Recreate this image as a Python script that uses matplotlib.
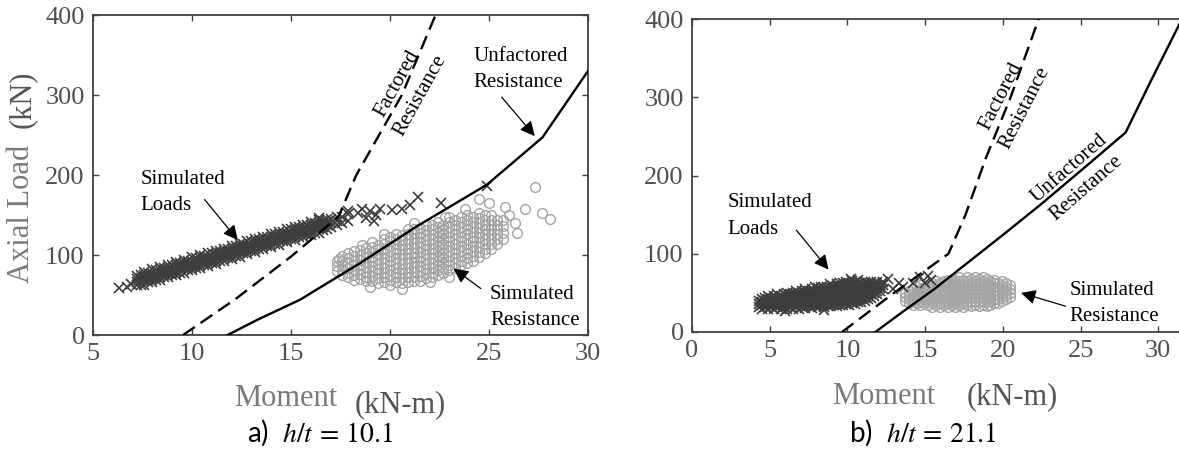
import numpy as np
import matplotlib.pyplot as plt

plt.rcParams['font.family'] = ['Liberation Serif', 'DejaVu Serif']
plt.rcParams['mathtext.fontset'] = 'stix'

# ---- panel a) h/t = 10.1 ----
fact_a_m = [9.55, 12.2, 15.0, 17.4, 18.3, 20.6, 22.3]
fact_a_p = [0, 45, 98, 148, 200, 300, 400]
unf_a_m = [11.8, 13.3, 15.45, 18.5, 21.3, 24.9, 27.7, 30.0]
unf_a_p = [0, 19, 44, 90, 135, 188, 247, 330]

loads_a_rows = [
    (7.2, [62, 66, 70, 74]), (7.4, [63, 67, 71, 75]), (7.6, [63, 67, 71, 75, 79]),
    (7.8, [66, 70, 74, 78]), (8.0, [66, 70, 74, 78, 82]), (8.2, [69, 73, 77, 81]),
    (8.4, [69, 73, 77, 81, 85]), (8.6, [72, 76, 80, 84]), (8.8, [72, 76, 80, 84, 88]),
    (9.0, [75, 79, 83, 87]), (9.2, [75, 79, 83, 87, 91]), (9.4, [78, 82, 86, 90]),
    (9.6, [78, 82, 86, 90, 94]), (9.8, [81, 85, 89, 93]), (10.0, [81, 85, 89, 93, 97]),
    (10.2, [84, 88, 92, 96]), (10.4, [84, 88, 92, 96, 100]), (10.6, [87, 91, 95, 99]),
    (10.8, [86, 90, 94, 98, 102]), (11.0, [90, 94, 98, 102]), (11.2, [89, 93, 97, 101, 105]),
    (11.4, [93, 97, 101, 105]), (11.6, [92, 96, 100, 104, 108]), (11.8, [96, 100, 104, 108]),
    (12.0, [95, 99, 103, 107, 111]), (12.2, [99, 103, 107, 111]), (12.4, [98, 102, 106, 110, 114]),
    (12.6, [102, 106, 110, 114]), (12.8, [101, 105, 109, 113, 117]), (13.0, [105, 109, 113, 117]),
    (13.2, [104, 108, 112, 116, 120]), (13.4, [108, 112, 116, 120]), (13.6, [107, 111, 115, 119, 123]),
    (13.8, [111, 115, 119, 123]), (14.0, [110, 114, 118, 122, 126]), (14.2, [114, 118, 122, 126]),
    (14.4, [113, 117, 121, 125, 129]), (14.6, [117, 121, 125, 129]), (14.8, [116, 120, 124, 128, 132]),
    (15.0, [120, 124, 128, 132]), (15.2, [119, 123, 127, 131, 135]), (15.4, [123, 127, 131, 135]),
    (15.6, [122, 126, 130, 134, 138]), (15.8, [125, 129, 133, 137]), (16.0, [125, 129, 133, 137, 141]),
    (16.2, [128, 132, 136, 140]), (16.4, [128, 132, 136, 140, 144]), (16.6, [131, 135, 139, 143]),
    (16.8, [133, 137, 141, 145]), (17.0, [135, 140, 145]), (17.3, [137, 143, 148]),
    (17.6, [140, 147]), (17.9, [143, 151]),
    (6.3, [59]), (6.7, [60]), (6.9, [64]), (16.4, [146]), (18.4, [153]), (18.8, [146]),
    (19.0, [155]), (19.3, [150]), (19.5, [157]), (19.2, [143]), (20.1, [156]),
    (20.6, [158]), (21.0, [162]), (21.4, [172]), (22.6, [165]), (24.9, [186]),
    (18.6, [158]), (17.9, [155]),
]
res_a_rows = [
    (17.3, [80, 86, 92]), (17.6, [75, 81, 87, 93, 99]), (17.9, [72, 78, 84, 90, 96, 102]),
    (18.2, [69, 75, 81, 87, 93, 99, 105]), (18.5, [70, 76, 82, 88, 94, 100, 106]),
    (18.8, [67, 73, 79, 85, 91, 97, 103, 109]), (19.1, [68, 74, 80, 86, 92, 98, 104, 110, 116]),
    (19.4, [65, 71, 77, 83, 89, 95, 101, 107, 113]),
    (19.7, [66, 72, 78, 84, 90, 96, 102, 108, 114, 120]),
    (20.0, [63, 69, 75, 81, 87, 93, 99, 105, 111, 117, 123]),
    (20.3, [66, 72, 78, 84, 90, 96, 102, 108, 114, 120, 126]),
    (20.6, [65, 71, 77, 83, 89, 95, 101, 107, 113, 119, 125]),
    (20.9, [66, 72, 78, 84, 90, 96, 102, 108, 114, 120, 126, 132]),
    (21.2, [67, 73, 79, 85, 91, 97, 103, 109, 115, 121, 127, 133]),
    (21.5, [68, 74, 80, 86, 92, 98, 104, 110, 116, 122, 128, 134]),
    (21.8, [71, 77, 83, 89, 95, 101, 107, 113, 119, 125, 131, 137]),
    (22.1, [72, 78, 84, 90, 96, 102, 108, 114, 120, 126, 132, 138]),
    (22.4, [75, 81, 87, 93, 99, 105, 111, 117, 123, 129, 135, 141]),
    (22.7, [78, 84, 90, 96, 102, 108, 114, 120, 126, 132, 138]),
    (23.0, [81, 87, 93, 99, 105, 111, 117, 123, 129, 135, 141, 147]),
    (23.3, [84, 90, 96, 102, 108, 114, 120, 126, 132, 138, 144]),
    (23.6, [87, 93, 99, 105, 111, 117, 123, 129, 135, 141, 147]),
    (23.9, [90, 96, 102, 108, 114, 120, 126, 132, 138, 144, 150]),
    (24.2, [93, 99, 105, 111, 117, 123, 129, 135, 141, 147]),
    (24.5, [98, 104, 110, 116, 122, 128, 134, 140, 146, 152]),
    (24.8, [102, 108, 114, 120, 126, 132, 138, 144, 150]),
    (25.1, [108, 114, 120, 126, 132, 138, 144, 150]),
    (25.4, [114, 120, 126, 132, 138, 144]), (25.7, [120, 128, 136, 144]),
    (17.4, [95]), (18.6, [112]), (19.0, [60]), (20.6, [58]), (26.0, [150]), (26.3, [140]),
    (26.8, [158]), (27.3, [185]), (27.7, [152]), (28.1, [145]), (25.8, [160]), (25.0, [165]),
    (24.5, [170]), (23.8, [158]), (22.8, [147]), (21.2, [140]), (19.7, [126]), (26.4, [128]),
    (23.0, [72]), (22.0, [66]),
]

# ---- panel b) h/t = 21.1 ----
fact_b_m = [9.65, 13.0, 16.5, 17.6, 18.9, 20.5, 22.3]
fact_b_p = [0, 50, 100, 150, 222, 300, 400]
unf_b_m = [11.8, 13.5, 15.6, 17.7, 20.0, 22.5, 25.6, 27.9, 29.5, 31.4, 32.0]
unf_b_p = [0, 25, 55, 88, 124, 164, 216, 255, 320, 395, 420]

loads_b_rows = [
    (4.3, [32, 36, 40]), (4.5, [30, 34, 38, 42]), (4.7, [32, 36, 40, 44]),
    (4.9, [30, 34, 38, 42, 46]), (5.1, [32, 36, 40, 44]), (5.3, [30, 34, 38, 42, 46]),
    (5.5, [32, 36, 40, 44, 48]), (5.7, [30, 34, 38, 42, 46]), (5.9, [32, 36, 40, 44, 48]),
    (6.1, [30, 34, 38, 42, 46, 50]), (6.3, [32, 36, 40, 44, 48]), (6.5, [30, 34, 38, 42, 46, 50]),
    (6.7, [32, 36, 40, 44, 48, 52]), (6.9, [30, 34, 38, 42, 46, 50]), (7.1, [32, 36, 40, 44, 48, 52]),
    (7.3, [31, 35, 39, 43, 47, 51, 55]), (7.5, [33, 37, 41, 45, 49, 53]),
    (7.7, [31, 35, 39, 43, 47, 51, 55]), (7.9, [33, 37, 41, 45, 49, 53, 57]),
    (8.1, [32, 36, 40, 44, 48, 52, 56]), (8.3, [34, 38, 42, 46, 50, 54, 58]),
    (8.5, [32, 36, 40, 44, 48, 52, 56]), (8.7, [34, 38, 42, 46, 50, 54, 58]),
    (8.9, [33, 37, 41, 45, 49, 53, 57, 61]), (9.1, [35, 39, 43, 47, 51, 55, 59]),
    (9.3, [33, 37, 41, 45, 49, 53, 57, 61]), (9.5, [35, 39, 43, 47, 51, 55, 59, 63]),
    (9.7, [34, 38, 42, 46, 50, 54, 58, 62]), (9.9, [36, 40, 44, 48, 52, 56, 60, 64]),
    (10.1, [35, 39, 43, 47, 51, 55, 59, 63]), (10.3, [37, 41, 45, 49, 53, 57, 61, 65]),
    (10.5, [36, 40, 44, 48, 52, 56, 60, 64]), (10.7, [38, 42, 46, 50, 54, 58, 62, 66]),
    (10.9, [38, 42, 46, 50, 54, 58, 62]), (11.1, [40, 44, 48, 52, 56, 60, 64]),
    (11.3, [42, 46, 50, 54, 58, 62]), (11.5, [44, 48, 52, 56, 60, 64]),
    (11.7, [46, 50, 54, 58, 62]), (11.9, [48, 52, 56, 60, 64]), (12.1, [52, 56, 60]),
    (12.3, [55, 60, 64]),
    (12.9, [55]), (13.3, [62]), (13.6, [58]), (14.2, [63]), (14.7, [70]), (15.0, [62]),
    (15.2, [72]), (15.4, [66]), (12.6, [68]), (10.2, [68]), (8.5, [28]), (6.0, [27]),
]
res_b_rows = [
    (13.7, [40, 45, 50]), (13.95, [37, 42, 47, 52]), (14.2, [35, 40, 45, 50, 55]),
    (14.45, [37, 42, 47, 52, 57]), (14.7, [35, 40, 45, 50, 55, 60]), (14.95, [37, 42, 47, 52, 57]),
    (15.2, [35, 40, 45, 50, 55, 60]), (15.45, [32, 37, 42, 47, 52, 57, 62]),
    (15.7, [35, 40, 45, 50, 55, 60, 65]), (15.95, [32, 37, 42, 47, 52, 57, 62]),
    (16.2, [35, 40, 45, 50, 55, 60, 65]), (16.45, [32, 37, 42, 47, 52, 57, 62, 67]),
    (16.7, [35, 40, 45, 50, 55, 60, 65]), (16.95, [32, 37, 42, 47, 52, 57, 62, 67]),
    (17.2, [35, 40, 45, 50, 55, 60, 65, 70]), (17.45, [32, 37, 42, 47, 52, 57, 62, 67]),
    (17.7, [35, 40, 45, 50, 55, 60, 65, 70]), (17.95, [33, 38, 43, 48, 53, 58, 63, 68]),
    (18.2, [35, 40, 45, 50, 55, 60, 65, 70]), (18.45, [33, 38, 43, 48, 53, 58, 63, 68]),
    (18.7, [35, 40, 45, 50, 55, 60, 65, 70]), (18.95, [33, 38, 43, 48, 53, 58, 63, 68]),
    (19.2, [35, 40, 45, 50, 55, 60, 65]), (19.45, [37, 42, 47, 52, 57, 62, 67]),
    (19.7, [37, 42, 47, 52, 57, 62]), (19.95, [40, 45, 50, 55, 60, 65]),
    (20.2, [42, 47, 52, 57, 62]), (20.45, [45, 50, 55, 60]),
]


def flat(rows):
    xs, ys = [], []
    for x, yl in rows:
        for y in yl:
            xs.append(x)
            ys.append(y)
    return xs, ys


LOADC = '#3d3d3d'
RESC = '#a4a4a4'
TICKC = '#505050'
W, H = 1179, 451

fig = plt.figure(figsize=(W / 100, H / 100), dpi=100)
axA = fig.add_axes([93 / W, 1 - 335 / H, 495 / W, 320 / H])
axB = fig.add_axes([692 / W, 1 - 332 / H, 544 / W, 313 / H])


def style(ax, xlim, xticks):
    ax.set_xlim(*xlim)
    ax.set_ylim(0, 400)
    ax.set_xticks(xticks)
    ax.set_yticks([0, 100, 200, 300, 400])
    ax.tick_params(direction='in', top=True, right=True, length=4, width=1,
                   labelsize=19, labelcolor=TICKC, color='#404040', pad=6)
    for s in ax.spines.values():
        s.set_color('#404040')
        s.set_linewidth(1.3)


def draw(ax, loads, res, fm, fp, um, up):
    lx, ly = flat(loads)
    rx, ry = flat(res)
    ax.plot(rx, ry, 'o', mfc='none', mec=RESC, ms=7, mew=1, zorder=2)
    ax.plot(lx, ly, 'x', color=LOADC, ms=7, mew=1.2, zorder=3)
    ax.plot(fm, fp, color='black', lw=1.7, dashes=(6, 3), zorder=4)
    ax.plot(um, up, color='black', lw=1.7, zorder=4)


style(axA, (5, 30), [5, 10, 15, 20, 25, 30])
style(axB, (0, 35), [0, 5, 10, 15, 20, 25, 30])
draw(axA, loads_a_rows, res_a_rows, fact_a_m, fact_a_p, unf_a_m, unf_a_p)
draw(axB, loads_b_rows, res_b_rows, fact_b_m, fact_b_p, unf_b_m, unf_b_p)

arr = dict(arrowstyle='-|>', color='black', lw=0.9, mutation_scale=22)
fs = 15
ls = 1.5

# annotations a)
axA.text(7.4, 206, 'Simulated\nLoads', fontsize=fs, va='top', ha='left', linespacing=ls)
axA.annotate('', xy=(12.4, 116), xytext=(10.55, 172), arrowprops=arr)
axA.text(24.2, 360, 'Unfactored\nResistance', fontsize=fs, va='top', ha='left', linespacing=ls)
axA.annotate('', xy=(27.4, 246), xytext=(25.55, 300), arrowprops=arr)
axA.text(25.05, 63, 'Simulated\nResistance', fontsize=fs, va='top', ha='left', linespacing=ls)
axA.annotate('', xy=(23.1, 85), xytext=(24.7, 56), arrowprops=arr)
axA.text(20.93, 306.5, 'Factored\nResistance', fontsize=fs, rotation=61, ha='center', va='center',
         rotation_mode='anchor', linespacing=ls)

# annotations b)
axB.text(2.3, 178, 'Simulated\nLoads', fontsize=fs, va='top', ha='left', linespacing=1.6)
axB.annotate('', xy=(8.9, 77), xytext=(6.6, 133), arrowprops=arr)
axB.text(24.3, 65, 'Simulated\nResistance', fontsize=fs, va='top', ha='left', linespacing=ls)
axB.annotate('', xy=(21.0, 51), xytext=(24.2, 32), arrowprops=arr)
axB.text(20.65, 293.7, 'Factored\nResistance', fontsize=fs, rotation=63, ha='center', va='center',
         rotation_mode='anchor', linespacing=ls)
axB.text(24.82, 196, 'Unfactored\nResistance', fontsize=fs, rotation=41, ha='center', va='center',
         rotation_mode='anchor', linespacing=ls)

# axis labels
LBL = 22
fig.text(22 / W, 1 - 214 / H, 'Axial Load', rotation=90, fontsize=LBL, color='#7a7a7a',
         ha='center', va='center')
fig.text(22 / W, 1 - 99 / H, '(kN)', rotation=90, fontsize=LBL, color='#555555',
         ha='center', va='center')
fig.text(286 / W, 1 - 398 / H, 'Moment', fontsize=LBL, color='#7a7a7a', ha='center', va='center')
fig.text(400 / W, 1 - 405 / H, '(kN-m)', fontsize=LBL, color='#555555', ha='center', va='center')
fig.text(884 / W, 1 - 396 / H, 'Moment', fontsize=LBL, color='#7a7a7a', ha='center', va='center')
fig.text(1012 / W, 1 - 397 / H, '(kN-m)', fontsize=LBL, color='#555555', ha='center', va='center')

# captions
fig.text(320 / W, 1 - 433 / H, r'a)  $h/t\,=\,10.1$', fontsize=20, family=['Lato', 'DejaVu Sans'],
         ha='center', va='center')
fig.text(923 / W, 1 - 433 / H, r'b)  $h/t\,=\,21.1$', fontsize=20, family=['Lato', 'DejaVu Sans'],
         ha='center', va='center')

fig.savefig('out.png', dpi=100)
